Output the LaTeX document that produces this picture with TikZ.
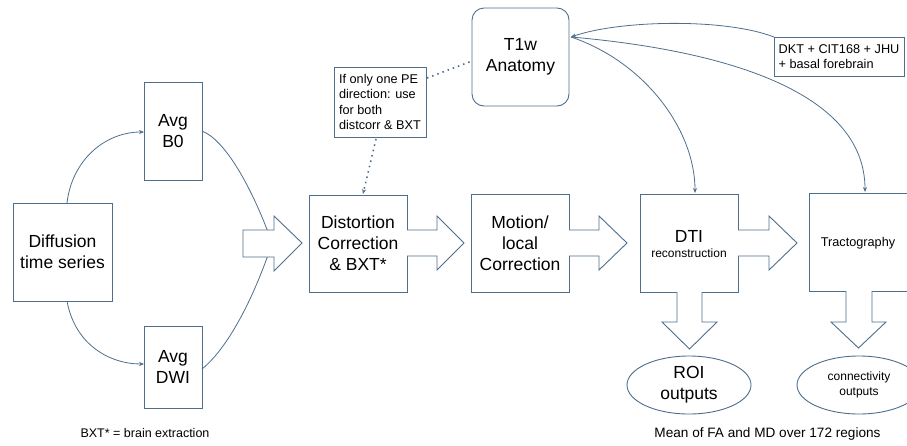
\documentclass[tikz,border=0pt]{standalone}
\usepackage{fontspec}
\setmainfont{Liberation Sans}
\usetikzlibrary{arrows.meta,shapes.geometric}
\definecolor{ln}{RGB}{78,110,140}
\begin{document}
\begin{tikzpicture}[x=1pt,y=-1pt,
  box/.style={draw=ln,line width=0.9pt,fill=white},
  big/.style={font=\fontsize{17.5}{21}\selectfont,align=center},
  small/.style={font=\fontsize{12.7}{15.5}\selectfont},
  fat/.style={draw=ln,line width=0.9pt,fill=white,line join=miter},
  conn/.style={draw=ln,line width=0.8pt},
  tip/.style={-{Stealth[length=5pt,width=4pt]}},
  dots/.style={draw=ln,line width=1.6pt,dash pattern=on 1.5pt off 4pt}]
\useasboundingbox (0,0) rectangle (907,445);
\clip (0,0) rectangle (907,445);

% boxes
\draw[box] (13,203) rectangle (112,301);
\node[big] (diff) at (62.5,252) {Diffusion\\time series};
\coordinate (diffT) at (67,203);
\coordinate (diffB) at (67,301);

\draw[box] (144,82) rectangle (202,180);
\node[big] (b0) at (173,131) {Avg\\B0};
\coordinate (b0L) at (144,132);
\coordinate (b0R) at (202,131);

\draw[box] (144,326) rectangle (202,408);
\node[big] (dwi) at (173,367) {Avg\\DWI};
\coordinate (dwiL) at (144,364);
\coordinate (dwiR) at (202,369);

\draw[box] (334,67) rectangle (426,137);
\node[small,align=left] (hint) at (380,102) {If only one PE\\direction: use\\for both\\distcorr \& BXT};
\coordinate (hintB) at (376,139);
\coordinate (hintR) at (427,78);

\draw[box] (309,195) rectangle (407,292);
\node[big] (dist) at (358,243) {Distortion\\Correction\\\& BXT*};
\coordinate (distT) at (363,194);

\draw[box] (471,194) rectangle (569,292);
\node[big] (mot) at (520,243) {Motion/\\local\\Correction};

\draw[box] (640,194) rectangle (738,292);
\node[font=\fontsize{17.5}{21}\selectfont] (dti) at (689,236) {DTI};
\node[font=\fontsize{12}{14}\selectfont] (dtir) at (689,253.5) {reconstruction};
\coordinate (dtiT) at (695,193);

\draw[box] (809,193) rectangle (920,291);
\node[small] (tract) at (858,243) {Tractography};
\coordinate (tractT) at (865,192);

\draw[box,rounded corners=12pt] (472,8) rectangle (569,106);
\node[big] (t1) at (520.5,57) {T1w\\Anatomy};
\coordinate (t1R) at (571,37);
\coordinate (t1L) at (472,61);

\draw[box] (774,37) rectangle (904,76);
\node[small,align=left] (dkt) at (839,56.5) {DKT + CIT168 + JHU\\+ basal forebrain};
\coordinate (dktC) at (774,37);

\draw[box] (689,385) ellipse [x radius=62,y radius=29];
\node[big] (roi) at (689,385) {ROI\\outputs};
\draw[box] (859,385) ellipse [x radius=62,y radius=29];
\node[font=\fontsize{12}{15}\selectfont,align=center] (con) at (859,385) {connectivity\\outputs};

\node[font=\fontsize{12.5}{15}\selectfont] (bxt) at (145,433) {BXT* = brain extraction};
\node[font=\fontsize{13.6}{16}\selectfont] (mean) at (767.5,434) {Mean of FA and MD over 172 regions};

% curves
\draw[conn,tip] (diffT) .. controls (72,160) and (105,132) .. (b0L);
\draw[conn,tip] (diffB) .. controls (75,345) and (110,364) .. (dwiL);
\coordinate (m1) at (268,232);
\coordinate (m2) at (268,255);
\draw[conn] (b0R) .. controls (225,140) and (250,185) .. (m1);
\draw[conn] (dwiR) .. controls (228,348) and (252,300) .. (m2);

\draw[dots,tip] (hintB) -- (distT);
\draw[dots] (hintR) -- (t1L);

\draw[conn,tip] (dktC) .. controls (725,18) and (620,20) .. (t1R);
\draw[conn,tip] (t1R) .. controls (645,62) and (695,130) .. (dtiT);
\draw[conn,tip] (t1R) .. controls (720,50) and (865,90) .. (tractT);

% fat arrows
\draw[fat] (243,230) -- (274,230) -- (274,216) -- (302,243) -- (274,271) -- (274,257) -- (243,257) -- cycle;
\draw[fat] (407,230) -- (437,230) -- (437,216) -- (464,243) -- (437,270) -- (437,256) -- (407,256);
\draw[fat] (569,230) -- (599,230) -- (599,216) -- (627,243) -- (599,270) -- (599,256) -- (569,256);
\draw[fat] (738,230) -- (769,230) -- (769,216) -- (797,243) -- (769,270) -- (769,256) -- (738,256);
\draw[fat] (677,292) -- (677,322) -- (662,322) -- (689.5,349) -- (717,322) -- (702,322) -- (702,292);
\draw[fat] (846,291) -- (846,322) -- (831,322) -- (858.5,348) -- (886,322) -- (872,322) -- (872,291);
\end{tikzpicture}
\end{document}
